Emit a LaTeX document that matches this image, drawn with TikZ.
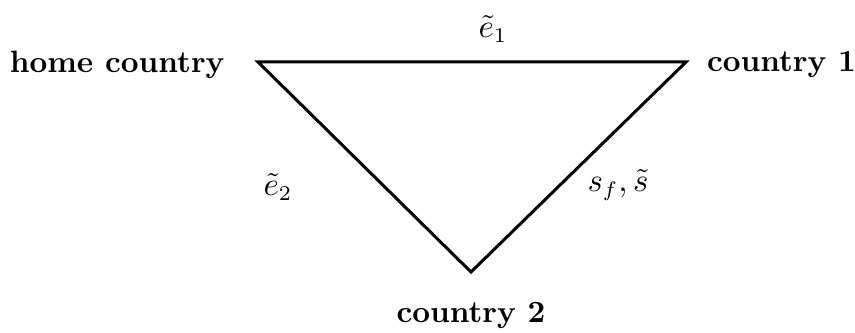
\documentclass[tikz,border=0pt]{standalone}
\usetikzlibrary{positioning}

\begin{document}
\begin{tikzpicture}[
  x=0.3333pt, y=0.3333pt,
  every node/.style={font=\fontsize{10.6}{13}\selectfont},
  place/.style={font=\fontsize{10.3}{12.5}\selectfont\bfseries, inner sep=0pt},
  rate/.style={inner sep=1pt},
  edge/.style={line width=1pt, line join=miter}
]
\useasboundingbox (0,0) rectangle (855,332);
% corners of the triangle
\coordinate (h)  at (258,270);
\coordinate (k1) at (686,270);
\coordinate (k2) at (471,60);

\node[place] (home) [left=11pt of h, yshift=-0.8pt] {home country};
\node[place] (one)  [right=6.8pt of k1, yshift=-0.8pt] {country 1};
\node[place] (two)  [below=10pt of k2] {country 2};

\draw[edge] (h) -- (k1) -- (k2) -- cycle;

\node[rate] (e1) at (493,303) {$\tilde e_1$};
\node[rate] (e2) at (278,145) {$\tilde e_2$};
\node[rate] (sf) at (618,147) {$s_f,\tilde s$};
\end{tikzpicture}
\end{document}
